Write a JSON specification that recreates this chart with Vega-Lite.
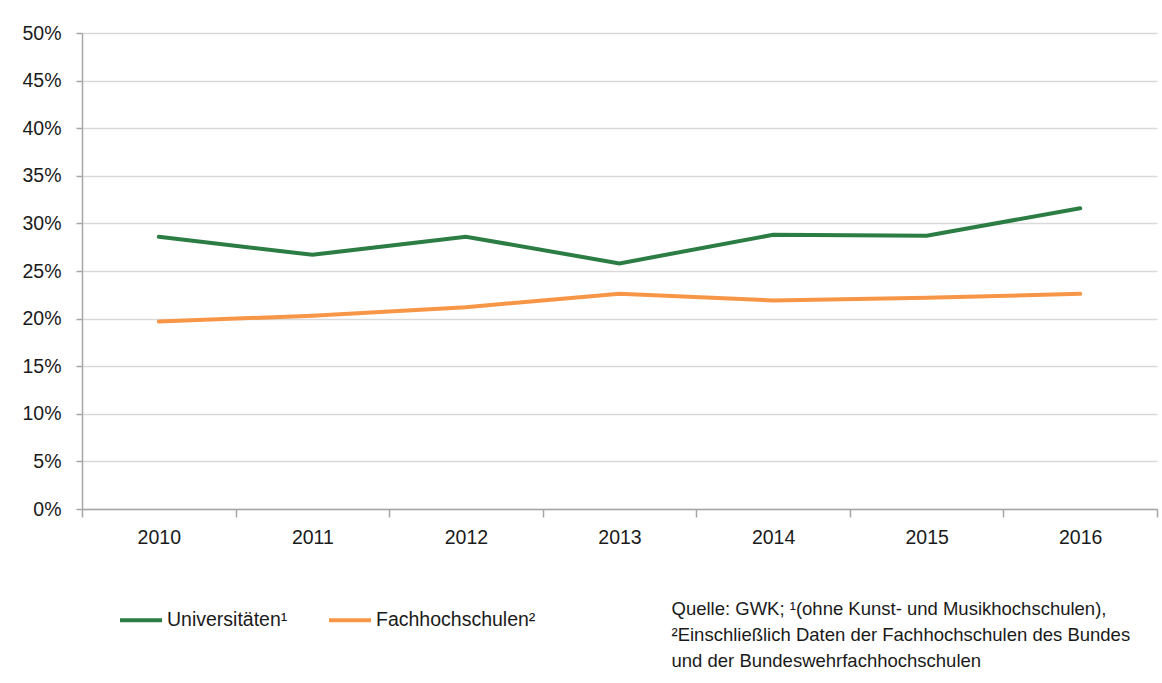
{
  "$schema": "https://vega.github.io/schema/vega-lite/v6.json",
  "width": 1075,
  "height": 476,
  "autosize": {"type": "none"},
  "padding": {"left": 82, "top": 33, "right": 5, "bottom": 174},
  "background": "white",
  "config": {
    "font": "Liberation Sans",
    "view": {"stroke": null}
  },
  "data": {
    "values": [
      {"Jahr": "2010", "Hochschulart": "Universitäten¹", "Anteil": 0.286},
      {"Jahr": "2011", "Hochschulart": "Universitäten¹", "Anteil": 0.267},
      {"Jahr": "2012", "Hochschulart": "Universitäten¹", "Anteil": 0.286},
      {"Jahr": "2013", "Hochschulart": "Universitäten¹", "Anteil": 0.258},
      {"Jahr": "2014", "Hochschulart": "Universitäten¹", "Anteil": 0.288},
      {"Jahr": "2015", "Hochschulart": "Universitäten¹", "Anteil": 0.287},
      {"Jahr": "2016", "Hochschulart": "Universitäten¹", "Anteil": 0.316},
      {"Jahr": "2010", "Hochschulart": "Fachhochschulen²", "Anteil": 0.197},
      {"Jahr": "2011", "Hochschulart": "Fachhochschulen²", "Anteil": 0.203},
      {"Jahr": "2012", "Hochschulart": "Fachhochschulen²", "Anteil": 0.212},
      {"Jahr": "2013", "Hochschulart": "Fachhochschulen²", "Anteil": 0.226},
      {"Jahr": "2014", "Hochschulart": "Fachhochschulen²", "Anteil": 0.219},
      {"Jahr": "2015", "Hochschulart": "Fachhochschulen²", "Anteil": 0.222},
      {"Jahr": "2016", "Hochschulart": "Fachhochschulen²", "Anteil": 0.226}
    ]
  },
  "mark": {"type": "line", "strokeWidth": 4, "strokeCap": "round"},
  "encoding": {
    "x": {
      "field": "Jahr",
      "type": "ordinal",
      "scale": {"type": "band", "paddingInner": 0, "paddingOuter": 0},
      "axis": {
        "title": ["Quelle: GWK; ¹(ohne Kunst- und Musikhochschulen),", "²Einschließlich Daten der Fachhochschulen des Bundes", "und der Bundeswehrfachhochschulen"],
        "titleX": 589,
        "titleY": 90,
        "titleAlign": "left",
        "titleAnchor": null,
        "titleBaseline": "top",
        "titleFontSize": 18.5,
        "titleFontWeight": "normal",
        "titleLineHeight": 26,
        "titleColor": "#1a1a1a",
        "labelAngle": 0,
        "tickBand": "extent",
        "domainColor": "#a6a6a6",
        "domainWidth": 1.5,
        "tickColor": "#a6a6a6",
        "tickWidth": 1.5,
        "tickSize": 8,
        "labelPadding": 11,
        "labelFontSize": 19.5,
        "labelColor": "#1a1a1a",
        "grid": false
      }
    },
    "y": {
      "field": "Anteil",
      "type": "quantitative",
      "scale": {"domain": [0, 0.5], "nice": false},
      "axis": {
        "title": null,
        "format": ".0%",
        "values": [0, 0.05, 0.1, 0.15, 0.2, 0.25, 0.3, 0.35, 0.4, 0.45, 0.5],
        "domainColor": "#a6a6a6",
        "domainWidth": 1.5,
        "tickColor": "#a6a6a6",
        "tickWidth": 1.5,
        "tickSize": 6,
        "labelPadding": 15,
        "labelFontSize": 19.5,
        "labelColor": "#1a1a1a",
        "grid": true,
        "gridColor": "#d9d9d9",
        "gridWidth": 1.5
      }
    },
    "color": {
      "field": "Hochschulart",
      "type": "nominal",
      "sort": ["Universitäten¹", "Fachhochschulen²"],
      "scale": {"domain": ["Universitäten¹", "Fachhochschulen²"], "range": ["#2b7d44", "#f79646"]},
      "legend": {
        "title": null,
        "orient": "none",
        "direction": "horizontal",
        "legendX": 36,
        "legendY": 564,
        "symbolType": "stroke",
        "symbolStrokeWidth": 4,
        "symbolSize": 1764,
        "labelFontSize": 19.5,
        "labelColor": "#1a1a1a",
        "labelOffset": 3,
        "columnPadding": 33,
        "labelLimit": 300
      }
    }
  }
}
